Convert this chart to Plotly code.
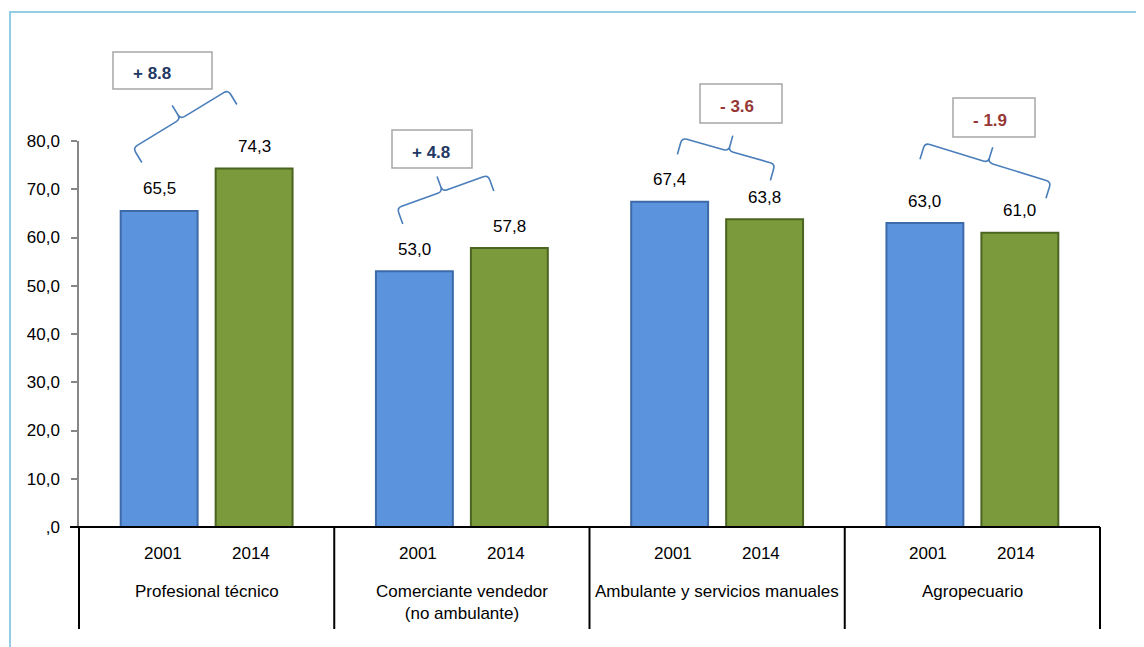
import math
import plotly.graph_objects as go

# ---------------- data ----------------
categories = ["Profesional técnico", "Comerciante vendedor<br>(no ambulante)",
              "Ambulante y servicios manuales", "Agropecuario"]
years = ["2001", "2014"]
values_2001 = [65.5, 53.0, 67.4, 63.0]
values_2014 = [74.3, 57.8, 63.8, 61.0]
delta_labels = ["+ 8.8", "+ 4.8", "- 3.6", "- 1.9"]
y_tickvals = [0, 10, 20, 30, 40, 50, 60, 70, 80]
y_ticktext = [",0", "10,0", "20,0", "30,0", "40,0", "50,0", "60,0", "70,0", "80,0"]

# ---------------- layout geometry (window pixels) ----------------
OFF = 8                      # page body margin of the html page
W, H = 1144 - OFF, 647 - OFF
L, R, T, B = 79, 1100, 141, 527
BARGAP, BARGROUPGAP = 0.256, 0.19
FONT = "Liberation Sans, Arial, sans-serif"
FS = 17


def px(x):
    return (x - L) / (R - L)


def py(y):
    return (B - y) / (B - T)


cat_w = (R - L) / len(categories)
bar_off = cat_w * (1 - BARGAP) / 4

# decoration geometry: brace corners and delta boxes (window pixels)
braces = [((133, 148), (228, 90)), ((397, 208), (488, 175)),
          ((682, 138), (775, 164)), ((925, 143), (1051, 182))]
boxes = [(113, 52, 212, 89), (392, 130, 472, 168),
         (700, 84, 782, 123), (953, 98, 1035, 137)]

fig = go.Figure()
fig.add_trace(go.Bar(
    x=categories, y=values_2001, name=years[0],
    marker=dict(color="#5B93DC", line=dict(color="#3D6AA8", width=2)),
    hoverinfo="skip"))
fig.add_trace(go.Bar(
    x=categories, y=values_2014, name=years[1],
    marker=dict(color="#7A9A3C", line=dict(color="#4B6520", width=2)),
    hoverinfo="skip"))

annotations = []
shapes = []

# value labels above bars
for vals, sgn in ((values_2001, -1), (values_2014, 1)):
    for c, v in zip(categories, vals):
        annotations.append(dict(
            x=c, y=v, xref="x", yref="y", xshift=sgn * bar_off, yshift=22,
            xanchor="center", yanchor="middle",
            text=f"{v:.1f}".replace(".", ","), showarrow=False,
            font=dict(family=FONT, size=FS, color="#000000")))

# year labels and category labels under the axis
for i, c in enumerate(categories):
    cx = (i + 0.5) / len(categories)
    for yr, sgn in zip(years, (-1, 1)):
        annotations.append(dict(
            x=cx, y=py(553), xref="paper", yref="paper", xshift=sgn * 44,
            text=yr, showarrow=False, xanchor="center", yanchor="middle",
            font=dict(family=FONT, size=FS, color="#000000")))
    annotations.append(dict(
        x=cx, y=py(580), xref="paper", yref="paper", text=c, showarrow=False,
        xanchor="center", yanchor="top",
        font=dict(family=FONT, size=FS, color="#000000")))

# category dividers
for i in range(len(categories) + 1):
    xx = i / len(categories)
    shapes.append(dict(type="line", xref="paper", yref="paper",
                       x0=xx, x1=xx, y0=0, y1=py(629),
                       line=dict(color="#000000", width=2)))
# bottom axis line
shapes.append(dict(type="line", xref="paper", yref="paper",
                   x0=px(70), x1=1, y0=0, y1=0,
                   line=dict(color="#000000", width=2)))


def brace_path(Lc, Rc, hook=17, notch=16, r=5):
    dx, dy = Rc[0] - Lc[0], Rc[1] - Lc[1]
    ln = math.hypot(dx, dy)
    d = (dx / ln, dy / ln)
    n = (-d[1], d[0])
    mid = ((Lc[0] + Rc[0]) / 2, (Lc[1] + Rc[1]) / 2)

    def p(pt, a=0.0, va=(0, 0)):
        x = pt[0] + a * va[0]
        y = pt[1] + a * va[1]
        return f"{px(x):.5f},{py(y):.5f}"

    s = (f"M {p(Lc, hook, n)} L {p(Lc, r, n)} Q {p(Lc)} {p(Lc, r, d)} "
         f"L {p(mid, -r, d)} Q {p(mid)} {p(mid, -r, n)} L {p(mid, -notch, n)} "
         f"M {p(mid, -notch, n)} L {p(mid, -r, n)} Q {p(mid)} {p(mid, r, d)} "
         f"L {p(Rc, -r, d)} Q {p(Rc)} {p(Rc, r, n)} L {p(Rc, hook, n)}")
    return s


for (Lc, Rc), (bx0, by0, bx1, by1), lab in zip(braces, boxes, delta_labels):
    shapes.append(dict(type="path", xref="paper", yref="paper",
                       path=brace_path(Lc, Rc),
                       line=dict(color="#4A7EBB", width=1.6),
                       fillcolor="rgba(0,0,0,0)"))
    shapes.append(dict(type="rect", xref="paper", yref="paper",
                       x0=px(bx0), x1=px(bx1), y0=py(by0), y1=py(by1),
                       line=dict(color="#A6A6A6", width=1.5),
                       fillcolor="#FFFFFF"))
    col = "#1F3864" if lab.startswith("+") else "#953735"
    annotations.append(dict(
        x=px(bx0 + 18), y=py((by0 + by1) / 2 + 3), xref="paper", yref="paper",
        xanchor="left", yanchor="middle", text=f"<b>{lab}</b>", showarrow=False,
        font=dict(family=FONT, size=FS, color=col)))

# outer light-blue frame
shapes.append(dict(type="rect", xref="paper", yref="paper",
                   x0=px(10), x1=px(1170), y0=py(12), y1=py(680),
                   line=dict(color="#93CDE3", width=2),
                   fillcolor="rgba(0,0,0,0)", layer="below"))

fig.update_layout(
    width=W, height=H,
    margin=dict(l=L - OFF, r=1144 - R, t=T - OFF, b=647 - B, pad=0),
    paper_bgcolor="#FFFFFF", plot_bgcolor="#FFFFFF",
    barmode="group", bargap=BARGAP, bargroupgap=BARGROUPGAP,
    showlegend=False,
    font=dict(family=FONT, size=FS, color="#000000"),
    xaxis=dict(type="category", range=[-0.5, len(categories) - 0.5],
               showticklabels=False, showline=False, showgrid=False,
               zeroline=False, ticks=""),
    yaxis=dict(range=[0, 80], tickvals=y_tickvals, ticktext=y_ticktext,
               showline=True, linecolor="#868686", linewidth=1.5,
               ticks="outside", ticklen=6, tickcolor="#868686", tickwidth=1.5,
               showgrid=False, zeroline=False, ticklabelstandoff=8,
               tickfont=dict(family=FONT, size=FS, color="#000000")),
    annotations=annotations, shapes=shapes,
)

fig.write_html("out.html")
